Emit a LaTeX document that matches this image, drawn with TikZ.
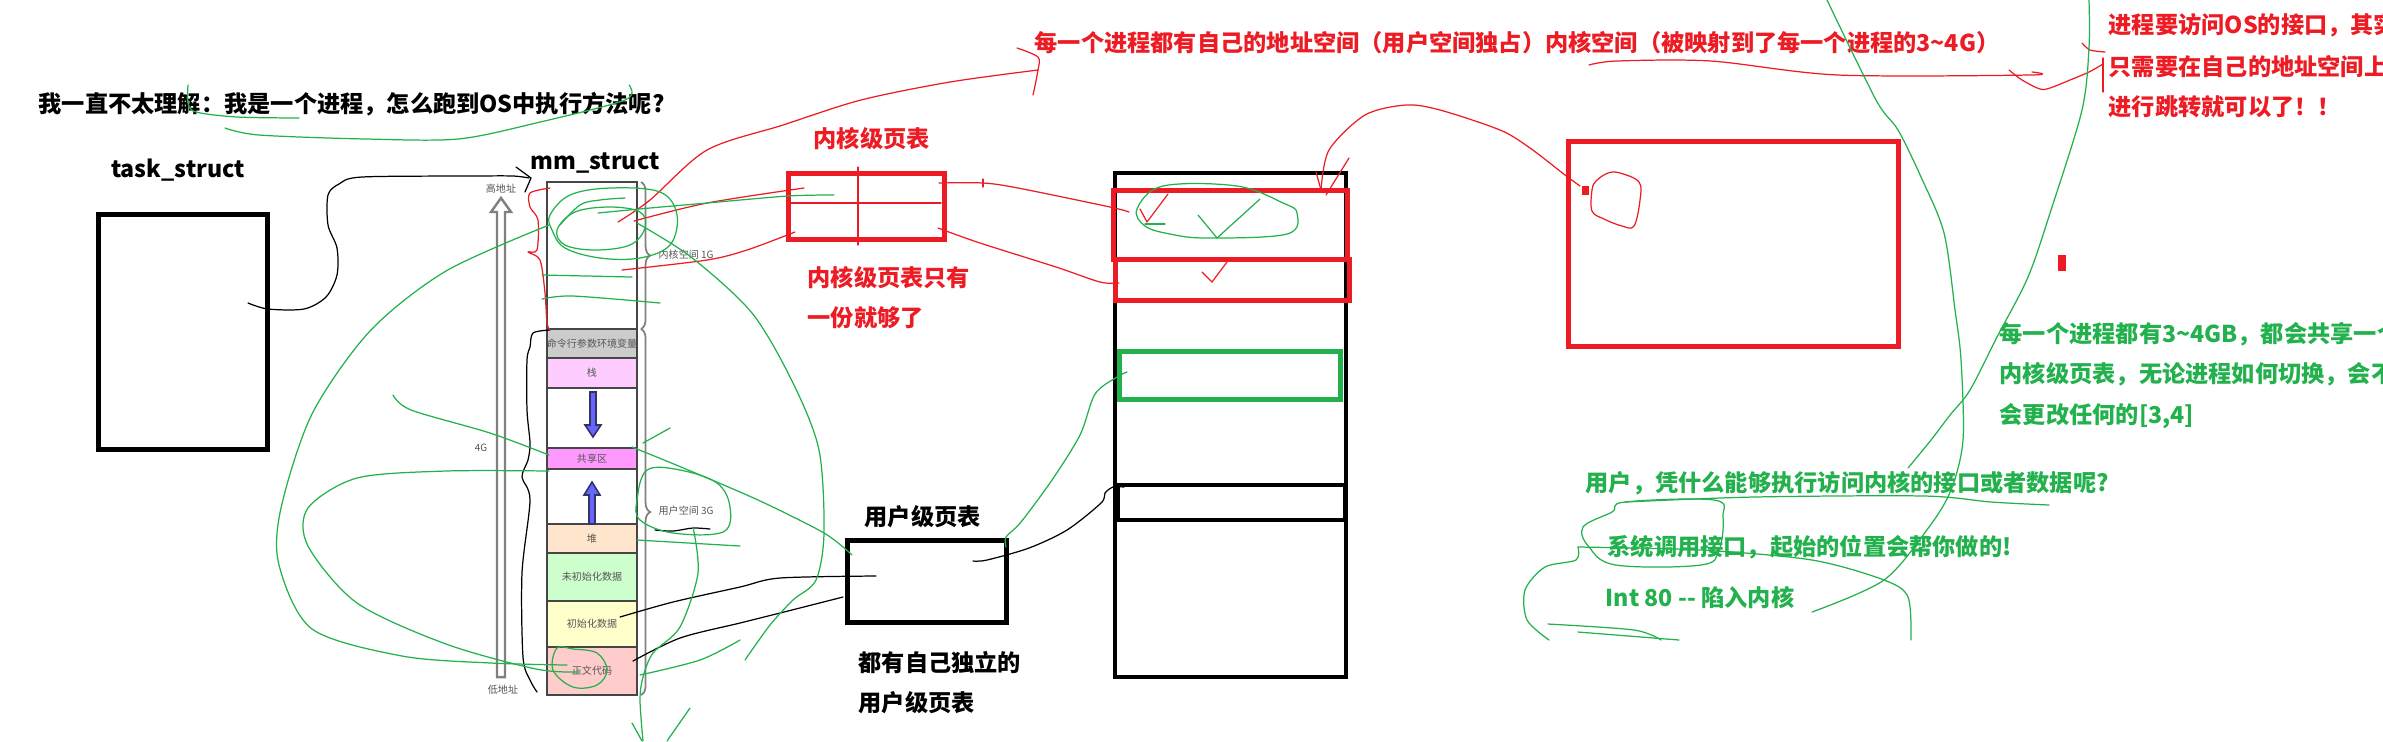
\documentclass[tikz,border=0pt]{standalone}
\usepackage{fontspec}
\newfontfamily\cjk{Noto Sans CJK SC}
\usetikzlibrary{decorations.pathreplacing}
\definecolor{pred}{RGB}{237,28,36}
\definecolor{pgreen}{RGB}{34,177,76}
\definecolor{segline}{RGB}{70,70,70}
\definecolor{labgray}{RGB}{85,85,85}
\definecolor{cmdfill}{RGB}{204,204,204}
\definecolor{stackfill}{RGB}{255,204,255}
\definecolor{sharefill}{RGB}{255,153,255}
\definecolor{heapfill}{RGB}{255,229,204}
\definecolor{bssfill}{RGB}{204,255,204}
\definecolor{datafill}{RGB}{255,255,204}
\definecolor{textfill}{RGB}{255,204,204}
\definecolor{arrblue}{RGB}{102,102,255}
\definecolor{arredge}{RGB}{51,51,102}
\begin{document}
\begin{tikzpicture}[x=0.01cm,y=-0.01cm,
  big/.style={font={\fontsize{6.6pt}{7pt}\selectfont\cjk\bfseries}, inner sep=0pt, anchor=west},
  small/.style={font={\fontsize{2.85pt}{3pt}\selectfont\cjk}, text=labgray, inner sep=0pt},
  tbox/.style={draw, line width=1.42pt, inner sep=0pt, outer sep=0pt},
  seg/.style={draw=segline, line width=0.55pt, minimum width=0.9cm, inner sep=0pt, outer sep=0pt,
              font={\fontsize{2.85pt}{3pt}\selectfont\cjk}, text=labgray},
  scR/.style={draw=pred, line width=0.35pt, line join=round, line cap=round},
  scG/.style={draw=pgreen, line width=0.35pt, line join=round, line cap=round},
  scK/.style={draw=black, line width=0.35pt, line join=round, line cap=round}]
\useasboundingbox (0,0) rectangle (2383,741);
\clip (0,0) rectangle (2383,741);
\fill[white] (0,0) rectangle (2383,741);

% ---------- titles ----------
\node[big] (title) at (38,104) {我一直不太理解：我是一个进程，怎么跑到OS中执行方法呢?};
\node[big, anchor=center] (tasklbl) at (178,170) {task\_struct};
\node[big, anchor=center] (mmlbl) at (595,163) {mm\_struct};
\node[big, text=pred] (toptext) at (1034,43) {每一个进程都有自己的地址空间（用户空间独占）内核空间（被映射到了每一个进程的3\textasciitilde4G）};
\node[big, text=pred] (rt1) at (2108,25) {进程要访问OS的接口，其实};
\node[big, text=pred] (rt2) at (2108,67) {只需要在自己的地址空间上};
\node[big, text=pred] (rt3) at (2108,107) {进行跳转就可以了！！};
\node[big, text=pred] (kptlbl) at (813,139) {内核级页表};
\node[big, text=pred] (kptn1) at (807,278) {内核级页表只有};
\node[big, text=pred] (kptn2) at (807,318) {一份就够了};
\node[big] (uptlbl) at (864,517) {用户级页表};
\node[big] (uptn1) at (858,663) {都有自己独立的};
\node[big] (uptn2) at (858,703) {用户级页表};
\node[big, text=pgreen] (gt1) at (1999,334) {每一个进程都有3\textasciitilde4GB，都会共享一个};
\node[big, text=pgreen] (gt2) at (1999,374) {内核级页表，无论进程如何切换，会不};
\node[big, text=pgreen] (gt3) at (1999,416) {会更改任何的[3,4]};
\node[big, text=pgreen] (q1) at (1585,483) {用户，凭什么能够执行访问内核的接口或者数据呢?};
\node[big, text=pgreen] (q2) at (1607,547) {系统调用接口，起始的位置会帮你做的!};
\node[big, text=pgreen] (q3) at (1605,598) {Int 80 -{}- 陷入内核};

% ---------- boxes ----------
\node[tbox, minimum width=1.69cm, minimum height=2.35cm] (task) at (183,332) {};
\node[tbox, draw=pred, minimum width=1.56cm, minimum height=0.66cm] (kpt) at (866.5,206.5) {};
\node[tbox, minimum width=1.59cm, minimum height=0.82cm] (upt) at (927,581.5) {};
\node[tbox, line width=1.2pt, minimum width=2.31cm, minimum height=5.04cm] (phys) at (1230.5,425) {};
\node[tbox, line width=1.2pt, minimum width=2.27cm, minimum height=0.35cm] (physu) at (1231.5,502.5) {};
\node[tbox, draw=pgreen, minimum width=2.21cm, minimum height=0.48cm] (physg) at (1230,375.5) {};
\node[tbox, draw=pred, minimum width=2.34cm, minimum height=0.69cm] (physk1) at (1230.5,225) {};
\node[tbox, draw=pred, minimum width=2.34cm, minimum height=0.41cm] (physk2) at (1232.5,280) {};
\node[tbox, draw=pred, minimum width=3.30cm, minimum height=2.05cm] (bigred) at (1733.5,244) {};
\fill[pred] (1581.5,186) rectangle (1589,195);
\fill[pred] (2058,255) rectangle (2066,271);

% cross lines in kernel page table
\draw[scR] (858,167) -- (858,245);
\draw[scR] (790,203) -- (941,203);

% ---------- mm_struct memory layout ----------
\node[seg, draw=gray, minimum height=1.47cm] (kern) at (592,255.5) {};
\node[seg, fill=cmdfill, minimum height=0.29cm] (cmd) at (592,343.5) {命令行参数环境变量};
\node[seg, fill=stackfill, minimum height=0.30cm] (stack) at (592,373) {栈};
\node[seg, fill=white, minimum height=0.60cm] (gap1) at (592,418) {};
\node[seg, fill=sharefill, minimum height=0.21cm] (share) at (592,458.5) {共享区};
\node[seg, fill=white, minimum height=0.55cm] (gap2) at (592,496.5) {};
\node[seg, fill=heapfill, minimum height=0.29cm] (heap) at (592,538.5) {堆};
\node[seg, fill=bssfill, minimum height=0.48cm] (bss) at (592,577) {未初始化数据};
\node[seg, fill=datafill, minimum height=0.46cm] (data) at (592,624) {初始化数据};
\node[seg, fill=textfill, minimum height=0.48cm] (code) at (592,671) {正文代码};
\draw[segline, line width=0.7pt] (547,182) rectangle (637,695);

% blue arrows
\draw[fill=arrblue, draw=arredge, line width=0.45pt] (590,392)--(596,392)--(596,425)--(601,425)--(593,437)--(585,425)--(590,425)--cycle;
\draw[fill=arrblue, draw=arredge, line width=0.45pt] (589,524)--(595,524)--(595,495)--(600,495)--(592,482)--(584,495)--(589,495)--cycle;

% address arrow
\draw[gray, line width=0.7pt, fill=white] (497,677)--(497,212)--(491,212)--(501,198)--(511,212)--(505,212)--(505,677)--cycle;
\node[small] (hi) at (501,189) {高地址};
\node[small] (lo) at (503,690) {低地址};
\node[small] (fourg) at (481,448) {4G};

% braces
\draw[gray, line width=0.5pt, decorate, decoration={brace, amplitude=2.6pt}] (641,182) -- (641,329);
\draw[gray, line width=0.5pt, decorate, decoration={brace, amplitude=2.6pt}] (641,329) -- (641,695);
\node[small, anchor=west] (kspace) at (658,255) {内核空间 1G};
\node[small, anchor=west] (uspace) at (658,511) {用户空间 3G};

% ---------- black scribbles ----------
\draw[scK] plot[smooth, tension=0.5] coordinates {(248,303) (268,309) (304,309) (326,297) (337,275) (337,248) (328,225) (328,195) (339,184) (362,177) (473,176) (513,176) (529,178)};
\draw[scK] (516,167) -- (531,178) -- (525,192);
\draw[scK] plot[smooth, tension=0.5] coordinates {(550,330) (533,333) (530,347) (527,360) (527,410) (530,443) (528,460) (522,477) (530,500) (522,573) (523,657) (530,680) (537,692)};
\draw[scK] plot[smooth, tension=0.5] coordinates {(620,617) (673,602) (740,587) (780,578) (876,576)};
\draw[scK] plot[smooth, tension=0.5] coordinates {(633,661) (680,638) (740,623) (780,613) (843,597)};
\draw[scK] plot[smooth, tension=0.5] coordinates {(655,530) (673,531) (693,528) (710,529)};
\draw[scK] plot[smooth, tension=0.5] coordinates {(973,561) (987,560) (1029,548) (1067,530) (1101,503) (1105,493) (1113,487) (1124,487)};

% ---------- red scribbles ----------
\draw[scR] plot[smooth, tension=0.5] coordinates {(618,222) (650,200) (707,150) (783,125) (861,100) (950,82) (1038,70)};
\draw[scR] plot[smooth, tension=0.5] coordinates {(1017,48) (1038,57) (1038,70) (1033,95)};
\draw[scR] plot[smooth, tension=0.5] coordinates {(634,221) (707,203) (804,188)};
\draw[scR] plot[smooth, tension=0.5] coordinates {(622,270) (707,260) (747,250) (795,232)};
\draw[scR] plot[smooth, tension=0.5] coordinates {(550,188) (530,193) (530,207) (538,220) (537,250) (528,252) (540,260) (545,293) (547,323) (550,330)};
\draw[scR] plot[smooth, tension=0.5] coordinates {(939,183) (983,183) (1018,188) (1110,207) (1129,212)};
\draw[scR] (983,179) -- (983,187);
\draw[scR] plot[smooth, tension=0.5] coordinates {(938,228) (980,243) (1056,267) (1100,282) (1119,283)};
\draw[scR] (1140,209) -- (1147,222) -- (1168,194);
\draw[scR] (1202,272) -- (1212,282) -- (1227,262);
\draw[scR] plot[smooth, tension=0.5] coordinates {(1321,190) (1329,150) (1365,115) (1406,105) (1440,110) (1500,130) (1530,148) (1565,175) (1580,186)};
\draw[scR] (1349,158) -- (1326,195);
\draw[scR] (1316,172) -- (1321,190);
\draw[scR] plot[smooth cycle, tension=0.6] coordinates {(1596,181) (1608,173) (1620,173) (1639,182) (1640,200) (1634,226) (1622,226) (1604,219) (1592,211) (1592,190)};
\draw[scR] plot[smooth, tension=0.5] coordinates {(1589,65) (1617,61) (1711,61) (1838,75) (2030,75) (2032,72)};
\draw[scR] plot[smooth, tension=0.5] coordinates {(2009,70) (2022,80) (2040,89) (2050,88) (2070,80) (2089,72) (2103,64)};
\draw[scR] plot[smooth, tension=0.5] coordinates {(2082,43) (2090,50) (2105,52)};
\draw[scR] (2103,58) -- (2103,92);

% ---------- green scribbles ----------
\draw[scG] plot[smooth, tension=0.5] coordinates {(188,85) (188,103) (196,112) (237,117) (299,118)};
\draw[scG] plot[smooth, tension=0.5] coordinates {(225,128) (259,135) (366,139) (458,139) (536,123) (625,100) (629,85)};
\draw[scG] plot[smooth cycle, tension=0.6] coordinates {(550,215) (570,195) (610,188) (660,192) (677,215) (670,245) (640,258) (600,258) (565,248) (552,230)};
\draw[scG] plot[smooth cycle, tension=0.6] coordinates {(557,230) (575,212) (610,207) (640,212) (645,228) (630,245) (595,250) (565,245)};
\draw[scG] plot[smooth, tension=0.6] coordinates {(560,225) (580,205) (600,200) (625,198)};
\draw[scG] (542,275) -- (632,277);
\draw[scG] plot[smooth, tension=0.5] coordinates {(542,299) (573,296) (660,303)};
\draw[scG] plot[smooth, tension=0.5] coordinates {(598,213) (650,208) (707,203) (788,196) (834,195)};
\draw[scG] plot[smooth, tension=0.5] coordinates {(637,223) (691,257) (752,313) (793,383) (819,450) (824,533) (816,580) (793,600) (770,625) (745,660)};
\draw[scG] plot[smooth, tension=0.5] coordinates {(632,447) (681,467) (758,500) (824,533) (852,555)};
\draw[scG] plot[smooth, tension=0.5] coordinates {(549,225) (446,271) (370,331) (312,414) (281,508) (279,565) (312,629) (402,656) (491,663) (567,665)};
\draw[scG] plot[smooth, tension=0.5] coordinates {(549,471) (446,471) (357,478) (308,508) (308,546) (357,603) (446,644) (536,669) (580,672)};
\draw[scG] plot[smooth, tension=0.5] coordinates {(393,395) (411,410) (490,433) (549,455)};
\draw[scG] plot[smooth cycle, tension=0.6] coordinates {(557,648) (553,670) (573,687) (597,685) (607,670) (597,653) (573,649)};
\draw[scG] plot[smooth cycle, tension=0.6] coordinates {(647,470) (637,500) (640,520) (673,533) (723,532) (730,507) (717,483) (680,470)};
\draw[scG] (637,540) -- (740,546);
\draw[scG] plot[smooth, tension=0.5] coordinates {(693,527) (698,573) (680,627) (653,653) (643,677) (640,700) (643,741)};
\draw[scG] plot[smooth, tension=0.5] coordinates {(640,675) (700,660) (740,640)};
\draw[scG] (632,723) -- (642,741);
\draw[scG] (690,708) -- (667,741);
\draw[scG] (643,443) -- (670,428);
\draw[scG] plot[smooth cycle, tension=0.6] coordinates {(1137,209) (1163,186) (1237,186) (1283,203) (1297,213) (1287,234) (1207,238) (1170,234) (1145,226)};
\draw[scG] (1198,215) -- (1217,238) -- (1260,199);
\draw[scG] (1145,224) -- (1165,224);
\draw[scG] plot[smooth, tension=0.5] coordinates {(1006,547) (1006,537) (1021,522) (1052,480) (1080,435) (1095,394) (1117,377) (1127,372)};
\draw[scG] plot[smooth, tension=0.5] coordinates {(1827,0) (1876,100) (1898,130) (1921,177) (1944,233) (1955,310) (1961,360) (1963,440) (1951,490) (1929,527) (1884,580) (1812,612)};
\draw[scG] plot[smooth, tension=0.5] coordinates {(2089,0) (2089,47) (2082,110) (2051,210) (2028,277) (1997,337) (1970,390) (1950,415) (1931,440) (1908,468)};
\draw[scG] plot[smooth cycle, tension=0.6] coordinates {(1625,502) (1714,500) (1723,517) (1719,550) (1701,565) (1616,565) (1589,547) (1583,527) (1612,512)};
\draw[scG] plot[smooth, tension=0.5] coordinates {(1625,502) (1754,497) (1924,496) (1991,502) (2049,505)};
\draw[scG] plot[smooth, tension=0.5] coordinates {(1578,547) (1576,560) (1545,567) (1525,590) (1527,620) (1549,640)};
\draw[scG] plot[smooth, tension=0.5] coordinates {(1578,547) (1701,550) (1812,560) (1884,580) (1908,597) (1911,640)};
\draw[scG] plot[smooth, tension=0.5] coordinates {(1548,624) (1634,630) (1661,640)};
\draw[scG] plot[smooth, tension=0.5] coordinates {(1578,632) (1679,640)};
\end{tikzpicture}
\end{document}
